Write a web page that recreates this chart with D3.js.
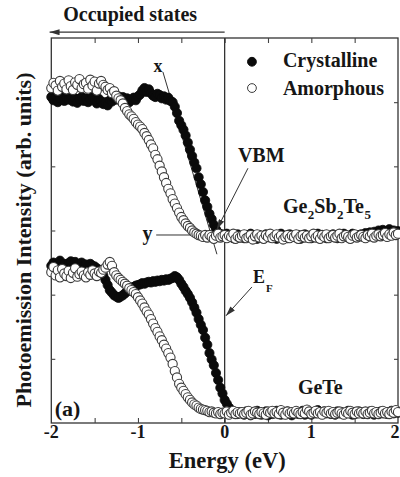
<!DOCTYPE html>
<html><head><meta charset="utf-8">
<script src="https://cdn.jsdelivr.net/npm/d3@7"></script>
<style>
html,body{margin:0;padding:0;background:#fff;}
svg{display:block;}
text{font-family:"Liberation Serif","Times New Roman",serif;font-weight:bold;fill:#161616;}
</style></head>
<body>
<svg id="chart" width="400" height="477"></svg>
<script>
// ---- data ----
const energyStart = -2, energyStep = 0.025, energyCount = 161;
const energy = d3.range(energyCount).map(i => +(energyStart + i * energyStep).toFixed(3));

const gstAmorphous = [
5.22,5.30,5.26,5.18,5.33,5.24,5.29,5.20,
5.34,5.25,5.19,5.31,5.27,5.36,5.22,5.28,
5.30,5.21,5.35,5.26,5.32,5.18,5.29,5.33,
5.27,5.24,5.19,5.22,5.14,5.17,5.10,5.06,
5.03,4.98,4.91,4.86,4.81,4.78,4.74,4.69,
4.65,4.62,4.58,4.52,4.47,4.41,4.34,4.28,
4.18,4.11,4.01,3.92,3.83,3.74,3.65,3.58,
3.49,3.42,3.35,3.28,3.21,3.16,3.11,3.07,
3.04,3.00,2.97,2.95,2.93,2.92,2.90,2.93,
2.89,2.93,2.90,2.87,2.92,2.95,2.89,2.91,
2.93,2.88,2.92,2.90,2.95,2.87,2.91,2.89,
2.92,2.94,2.88,2.90,2.93,2.86,2.91,2.94,
2.89,2.92,2.87,2.93,2.90,2.95,2.88,2.91,
2.94,2.89,2.92,2.86,2.90,2.93,2.88,2.92,
2.90,2.94,2.87,2.91,2.93,2.89,2.92,2.88,
2.91,2.95,2.89,2.92,2.87,2.93,2.90,2.94,
2.88,2.91,2.93,2.89,2.92,2.95,2.88,2.91,
2.93,2.90,2.87,2.92,2.94,2.89,2.91,2.93,
2.90,2.88,2.93,2.91,2.95,2.89,2.92,2.94,
2.91,2.93,2.96,2.90,2.94,2.92,2.97,2.93,
2.95];

const gstCrystalline = [
5.08,5.03,5.10,5.00,5.06,5.12,5.02,5.07,
5.04,5.09,5.01,5.06,4.99,5.05,5.08,5.02,
5.06,5.00,5.04,5.08,5.03,4.98,5.05,5.01,
4.97,5.00,4.95,5.03,5.01,5.06,5.04,5.09,
5.05,5.08,5.02,5.06,5.00,5.04,5.07,5.03,
5.09,5.12,5.18,5.22,5.16,5.20,5.14,5.10,
5.08,5.13,5.11,5.06,5.09,5.04,5.07,5.02,
5.00,4.93,4.83,4.71,4.64,4.57,4.48,4.37,
4.26,4.16,4.06,3.97,3.83,3.72,3.60,3.47,
3.37,3.26,3.18,3.09,3.02,2.97,2.93,2.94,
2.91,2.95,2.90,2.93,2.88,2.92,2.94,2.89,
2.91,2.88,2.93,2.90,2.95,2.89,2.92,2.87,
2.93,2.90,2.88,2.94,2.91,2.89,2.93,2.90,
2.87,2.92,2.95,2.89,2.91,2.88,2.94,2.90,
2.92,2.89,2.93,2.87,2.91,2.94,2.90,2.92,
2.88,2.93,2.91,2.95,2.89,2.90,2.93,2.88,
2.92,2.90,2.94,2.91,2.88,2.93,2.90,2.95,
2.91,2.89,2.92,2.95,2.90,2.93,2.91,2.94,
2.92,2.96,2.93,2.97,2.95,2.98,2.94,3.00,
2.97,3.01,2.99,2.96,3.02,2.98,3.00,2.97,
2.99];

const geteCrystalline = [
2.45,2.50,2.42,2.47,2.53,2.44,2.48,2.41,
2.49,2.52,2.46,2.51,2.44,2.48,2.50,2.45,
2.47,2.43,2.48,2.45,2.44,2.41,2.39,2.35,
2.30,2.23,2.15,2.07,2.03,1.99,1.97,1.95,
1.97,1.99,2.02,2.05,2.08,2.11,2.12,2.14,
2.15,2.16,2.18,2.17,2.19,2.20,2.19,2.21,
2.20,2.22,2.21,2.23,2.22,2.24,2.23,2.25,
2.26,2.29,2.27,2.23,2.17,2.12,2.06,2.01,
1.95,1.88,1.80,1.72,1.62,1.53,1.45,1.33,
1.22,1.09,0.99,0.90,0.78,0.67,0.55,0.46,
0.36,0.30,0.24,0.20,0.18,0.16,0.14,0.17,
0.15,0.13,0.18,0.16,0.12,0.17,0.14,0.19,
0.16,0.13,0.15,0.18,0.12,0.16,0.14,0.17,
0.19,0.15,0.13,0.17,0.14,0.18,0.16,0.12,
0.15,0.18,0.14,0.16,0.19,0.13,0.17,0.15,
0.13,0.17,0.15,0.20,0.16,0.14,0.18,0.15,
0.17,0.14,0.16,0.13,0.18,0.15,0.17,0.14,
0.16,0.19,0.15,0.13,0.17,0.15,0.18,0.16,
0.14,0.17,0.15,0.18,0.16,0.13,0.17,0.15,
0.18,0.15,0.17,0.14,0.16,0.19,0.15,0.17,
0.16];

const geteAmorphous = [
2.35,2.43,2.30,2.38,2.27,2.40,2.33,2.29,
2.37,2.26,2.34,2.41,2.28,2.32,2.36,2.30,
2.27,2.35,2.31,2.38,2.33,2.29,2.36,2.34,
2.39,2.42,2.47,2.51,2.45,2.35,2.30,2.26,
2.23,2.20,2.17,2.14,2.10,2.07,2.04,2.01,
1.96,1.91,1.86,1.80,1.74,1.69,1.62,1.55,
1.48,1.42,1.35,1.29,1.22,1.16,1.09,1.02,
0.92,0.81,0.71,0.61,0.55,0.50,0.45,0.40,
0.36,0.32,0.29,0.27,0.24,0.22,0.21,0.20,
0.19,0.17,0.18,0.16,0.15,0.17,0.14,0.16,
0.15,0.18,0.13,0.16,0.19,0.14,0.17,0.15,
0.17,0.14,0.16,0.19,0.13,0.15,0.18,0.16,
0.14,0.17,0.15,0.13,0.18,0.16,0.19,0.15,
0.17,0.14,0.20,0.16,0.13,0.18,0.15,0.17,
0.15,0.19,0.16,0.14,0.17,0.15,0.21,0.18,
0.14,0.16,0.19,0.15,0.17,0.13,0.18,0.16,
0.19,0.15,0.17,0.14,0.16,0.18,0.15,0.13,
0.17,0.15,0.19,0.16,0.14,0.18,0.15,0.17,
0.15,0.18,0.14,0.16,0.19,0.15,0.17,0.14,
0.16,0.19,0.15,0.17,0.14,0.18,0.16,0.20,
0.17];

const xTickLabels = [-2, -1, 0, 1, 2];
const xMinorTicks = [-1.5, -1, -0.5, 0, 0.5, 1, 1.5];
const yTicks = [1, 2, 3, 4, 5];
const legendLabels = ["Crystalline", "Amorphous"];

// ---- layout ----
const svg = d3.select("#chart");
const pLeft = 51.3, pRight = 398, pTop = 38, pBottom = 423;
const x = d3.scaleLinear().domain([-2, 2]).range([pLeft, pRight]);
const y = d3.scaleLinear().domain([0, 6]).range([pBottom, pTop]);

// frame
svg.append("rect").attr("x", pLeft).attr("y", pTop)
  .attr("width", pRight - pLeft).attr("height", pBottom - pTop)
  .attr("fill", "none").attr("stroke", "#333").attr("stroke-width", 1.3);

// axes ticks (inside)
const gB = svg.append("g").attr("transform", `translate(0,${pBottom})`)
  .call(d3.axisBottom(x).tickValues(xMinorTicks).tickSize(-5).tickFormat(""));
const gT = svg.append("g").attr("transform", `translate(0,${pTop})`)
  .call(d3.axisTop(x).tickValues(xMinorTicks).tickSize(-5).tickFormat(""));
const gL = svg.append("g").attr("transform", `translate(${pLeft},0)`)
  .call(d3.axisLeft(y).tickValues(yTicks).tickSize(-4).tickFormat(""));
const gR = svg.append("g").attr("transform", `translate(${pRight},0)`)
  .call(d3.axisRight(y).tickValues(yTicks).tickSize(-4).tickFormat(""));
[gB, gT, gL, gR].forEach(g => {
  g.select(".domain").remove();
  g.selectAll("line").attr("stroke", "#444").attr("stroke-width", 1.1);
});

// tick labels (last one kept inside the picture)
svg.append("g").selectAll("text").data(xTickLabels).join("text")
  .attr("x", d => d === 2 ? 399.5 : x(d)).attr("y", 437.5)
  .attr("text-anchor", d => d === 2 ? "end" : "middle").attr("font-size", 18)
  .text(d => String(d));

// axis titles
svg.append("text").attr("x", x(0.03)).attr("y", 467.5)
  .attr("text-anchor", "middle").attr("font-size", 22.5).text("Energy (eV)");
svg.append("text").attr("transform", "translate(31,240) rotate(-90)")
  .attr("text-anchor", "middle").attr("font-size", 22).text("Photoemission Intensity (arb. units)");

// Occupied states arrow
svg.append("defs").append("marker").attr("id", "ah")
  .attr("viewBox", "0 0 10 6").attr("refX", 10).attr("refY", 3)
  .attr("markerWidth", 10).attr("markerHeight", 6).attr("markerUnits", "userSpaceOnUse")
  .attr("orient", "auto")
  .append("path").attr("d", "M0,0 L10,3 L0,6 Z").attr("fill", "#333");
svg.append("line").attr("x1", x(0)).attr("x2", x(-2.02))
  .attr("y1", y(6.09)).attr("y2", y(6.09))
  .attr("stroke", "#333").attr("stroke-width", 1.2).attr("marker-end", "url(#ah)");
svg.append("text").attr("x", x(-1.09)).attr("y", y(6.26))
  .attr("text-anchor", "middle").attr("font-size", 20).text("Occupied states");

// Fermi level line
svg.append("line").attr("x1", x(0)).attr("x2", x(0)).attr("y1", pTop).attr("y2", pBottom)
  .attr("stroke", "#333").attr("stroke-width", 1.3);

// tangent line (x) and baseline line (y)
svg.append("line").attr("x1", x(-0.712)).attr("y1", y(5.47))
  .attr("x2", x(-0.089)).attr("y2", y(2.63)).attr("stroke", "#333").attr("stroke-width", 1);
svg.append("line").attr("x1", x(-0.79)).attr("y1", y(2.93))
  .attr("x2", x(-0.17)).attr("y2", y(2.93)).attr("stroke", "#333").attr("stroke-width", 1);

// data points
function drawSeries(vals, filled) {
  svg.append("g").selectAll("circle").data(vals).join("circle")
    .attr("cx", (d, i) => x(energy[i])).attr("cy", d => y(d)).attr("r", 4.6)
    .attr("fill", filled ? "#0a0a0a" : "#ffffff")
    .attr("stroke", filled ? "#0a0a0a" : "#3a3a3a")
    .attr("stroke-width", filled ? 0.8 : 1.1);
}
drawSeries(gstCrystalline, true);
drawSeries(gstAmorphous, false);
drawSeries(geteCrystalline, true);
drawSeries(geteAmorphous, false);

// legend
const legendY = [5.63, 5.22], legendTextY = [5.55, 5.11];
legendLabels.forEach((lab, i) => {
  svg.append("circle").attr("cx", x(0.315)).attr("cy", y(legendY[i])).attr("r", 4.4)
    .attr("fill", i === 0 ? "#0a0a0a" : "#fff").attr("stroke", i === 0 ? "#0a0a0a" : "#3a3a3a").attr("stroke-width", 1);
  svg.append("text").attr("x", x(0.672)).attr("y", y(legendTextY[i]))
    .attr("font-size", 20).text(lab);
});

// annotations
svg.append("text").attr("x", x(-0.77)).attr("y", y(5.47)).attr("text-anchor", "middle")
  .attr("font-size", 18).text("x");
svg.append("text").attr("x", x(-0.89)).attr("y", y(2.85)).attr("text-anchor", "middle")
  .attr("font-size", 20).text("y");

svg.append("text").attr("x", x(0.153)).attr("y", y(4.07)).attr("font-size", 20).text("VBM");
svg.append("line").attr("x1", x(0.269)).attr("y1", y(3.97))
  .attr("x2", x(-0.089)).attr("y2", y(3.02))
  .attr("stroke", "#333").attr("stroke-width", 1).attr("marker-end", "url(#ah)");

const gst = svg.append("text").attr("x", x(0.672)).attr("y", y(3.27)).attr("font-size", 20);
[["Ge", 0], ["2", 1], ["Sb", 0], ["2", 1], ["Te", 0], ["5", 1]].forEach(([t, sub], i, arr) => {
  const prevSub = i > 0 ? arr[i - 1][1] : 0;
  gst.append("tspan").attr("dy", sub === prevSub ? 0 : (sub ? 6 : -6))
    .attr("font-size", sub ? 13 : 20).attr("dx", sub ? 0.5 : 0).text(t);
});

const ef = svg.append("text").attr("x", x(0.326)).attr("y", y(2.18)).attr("font-size", 18);
ef.append("tspan").text("E");
ef.append("tspan").attr("dy", 9).attr("dx", 1).attr("font-size", 11).text("F");
svg.append("line").attr("x1", x(0.315)).attr("y1", y(2.12))
  .attr("x2", x(0.015)).attr("y2", y(1.67))
  .attr("stroke", "#333").attr("stroke-width", 1).attr("marker-end", "url(#ah)");

svg.append("text").attr("x", x(0.845)).attr("y", y(0.45)).attr("font-size", 20).text("GeTe");
svg.append("text").attr("x", x(-1.96)).attr("y", y(0.11)).attr("font-size", 22).text("(a)");
</script>
</body></html>
